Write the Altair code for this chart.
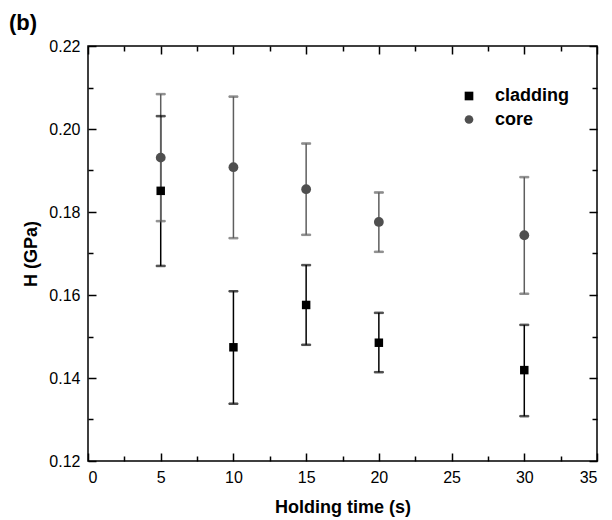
import altair as alt
import pandas as pd

# Data
times = [5, 10, 15, 20, 30]
clad_H = [0.1851, 0.1474, 0.1576, 0.1485, 0.1419]
clad_lo = [0.1670, 0.1338, 0.1480, 0.1414, 0.1308]
clad_hi = [0.2031, 0.1609, 0.1672, 0.1557, 0.1528]
core_H = [0.1931, 0.1908, 0.1855, 0.1776, 0.1744]
core_lo = [0.1778, 0.1737, 0.1745, 0.1704, 0.1603]
core_hi = [0.2084, 0.2078, 0.1965, 0.1847, 0.1884]

x_major = [0, 5, 10, 15, 20, 25, 30, 35]
x_minor = [2.5, 7.5, 12.5, 17.5, 22.5, 27.5, 32.5]
y_major = [0.12, 0.14, 0.16, 0.18, 0.20, 0.22]
y_minor = [0.13, 0.15, 0.17, 0.19, 0.21]

series_names = ["cladding", "core"]
series_colors = ["#000000", "#4f4f4f"]
bar_colors = ["#000000", "#5e5e5e"]
series_shapes = ["square", "circle"]
series_sizes = [72, 96]

rows = []
for t, h, lo, hi in zip(times, clad_H, clad_lo, clad_hi):
    rows.append({"t": t, "H": h, "lo": lo, "hi": hi, "series": "cladding"})
for t, h, lo, hi in zip(times, core_H, core_lo, core_hi):
    rows.append({"t": t, "H": h, "lo": lo, "hi": hi, "series": "core"})
df = pd.DataFrame(rows)

FONT = "Liberation Sans"
xs = alt.Scale(domain=[0, 35], nice=False)
ys = alt.Scale(domain=[0.12, 0.22], nice=False, zero=False)
bar_color = alt.Color("series:N", scale=alt.Scale(domain=series_names, range=bar_colors), legend=None)

base = alt.Chart(df)

rules = base.mark_rule(strokeWidth=1.5).encode(
    x=alt.X("t:Q", scale=xs, axis=None),
    y=alt.Y("lo:Q", scale=ys, axis=None),
    y2="hi:Q",
    stroke=bar_color,
)
cap_hi = base.mark_tick(orient="horizontal", size=9, thickness=1.5).encode(
    x=alt.X("t:Q", scale=xs, axis=None),
    y=alt.Y("hi:Q", scale=ys, axis=None),
    stroke=bar_color,
    fill=bar_color,
)
cap_lo = base.mark_tick(orient="horizontal", size=9, thickness=1.5).encode(
    x=alt.X("t:Q", scale=xs, axis=None),
    y=alt.Y("lo:Q", scale=ys, axis=None),
    stroke=bar_color,
    fill=bar_color,
)


def ax(orient, values, size, labels=False, title=None, fmt=None):
    kw = dict(
        orient=orient, values=values, tickSize=size, offset=-size,
        labels=labels, domain=False, grid=False, tickColor="black", tickWidth=1.5,
    )
    if labels:
        kw.update(labelFont=FONT, labelFontSize=16, labelColor="black",
                  labelPadding=8 if orient == "bottom" else 8)
        if fmt:
            kw["format"] = fmt
    if title:
        kw.update(title=title, titleFont=FONT, titleFontSize=18, titleFontWeight="bold",
                  titleColor="black", titlePadding=13 if orient == "bottom" else 8)
    else:
        kw["title"] = ""
    return alt.Axis(**kw)


leg = alt.Legend(orient="none", legendX=372, legendY=41, title=None,
                 labelFont=FONT, labelFontSize=18, labelFontWeight="bold",
                 labelColor="black", symbolSize=75, symbolStrokeWidth=0,
                 labelOffset=17, rowPadding=5.5, padding=0)

points = base.mark_point(filled=True, opacity=1).encode(
    x=alt.X("t:Q", scale=xs, axis=ax("bottom", x_major, 8, True, "Holding time (s)")),
    y=alt.Y("H:Q", scale=ys, axis=ax("left", y_major, 8, True, "H (GPa)", ".2f")),
    color=alt.Color("series:N", scale=alt.Scale(domain=series_names, range=series_colors), legend=leg),
    shape=alt.Shape("series:N", scale=alt.Scale(domain=series_names, range=series_shapes), legend=leg),
    size=alt.Size("series:N", scale=alt.Scale(domain=series_names, range=series_sizes), legend=None),
)

inv1 = base.mark_point(opacity=0).encode(
    x=alt.X("t:Q", scale=xs, axis=ax("bottom", x_minor, 5)),
    y=alt.Y("H:Q", scale=ys, axis=ax("left", y_minor, 5)),
)
inv2 = base.mark_point(opacity=0).encode(
    x=alt.X("t:Q", scale=xs, axis=ax("top", x_major, 8)),
    y=alt.Y("H:Q", scale=ys, axis=ax("right", y_major, 8)),
)
inv3 = base.mark_point(opacity=0).encode(
    x=alt.X("t:Q", scale=xs, axis=ax("top", x_minor, 5)),
    y=alt.Y("H:Q", scale=ys, axis=ax("right", y_minor, 5)),
)

chart = alt.layer(rules, cap_hi, cap_lo, points, inv1, inv2, inv3).resolve_axis(
    x="independent", y="independent"
).resolve_scale(
    stroke="independent", fill="independent", color="independent"
).resolve_legend(
    color="independent", shape="independent"
).properties(
    width=509, height=415,
    padding={"left": 80, "top": 38, "right": 7, "bottom": 59},
    autosize=alt.AutoSizeParams(type="none"),
    title=alt.TitleParams("(b)", anchor="start", font=FONT, fontSize=22, fontWeight="bold",
                          color="black", dx=-79, offset=3, frame="group"),
).configure_view(stroke="black", strokeWidth=1.5)

chart.save("out.html", embed_options={"renderer": "svg", "actions": False})
